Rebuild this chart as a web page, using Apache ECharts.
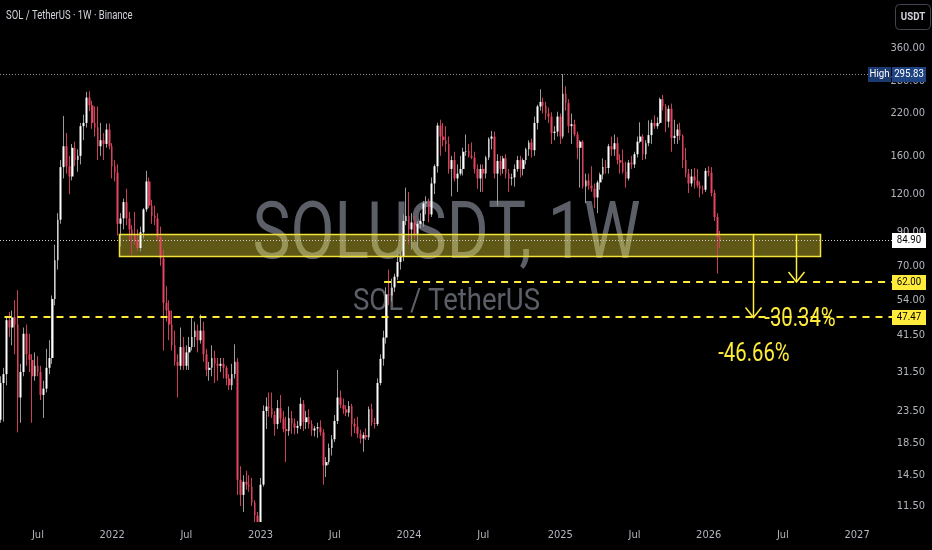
<!DOCTYPE html>
<html>
<head>
<meta charset="utf-8">
<script src="https://cdn.jsdelivr.net/npm/echarts@6/dist/echarts.min.js"></script>
<style>
html,body{margin:0;padding:0;background:#000;}
#c{width:932px;height:550px;}
</style>
</head>
<body>
<div id="c"></div>
<script>
// ---------------- DATA (SOL / TetherUS, weekly, Binance) ----------------
const weeks = [
'2021-03-29','2021-04-05','2021-04-12','2021-04-19','2021-04-26','2021-05-03','2021-05-10','2021-05-17','2021-05-24','2021-05-31',
'2021-06-07','2021-06-14','2021-06-21','2021-06-28','2021-07-05','2021-07-12','2021-07-19','2021-07-26','2021-08-02','2021-08-09',
'2021-08-16','2021-08-23','2021-08-30','2021-09-06','2021-09-13','2021-09-20','2021-09-27','2021-10-04','2021-10-11','2021-10-18',
'2021-10-25','2021-11-01','2021-11-08','2021-11-15','2021-11-22','2021-11-29','2021-12-06','2021-12-13','2021-12-20','2021-12-27',
'2022-01-03','2022-01-10','2022-01-17','2022-01-24','2022-01-31','2022-02-07','2022-02-14','2022-02-21','2022-02-28','2022-03-07',
'2022-03-14','2022-03-21','2022-03-28','2022-04-04','2022-04-11','2022-04-18','2022-04-25','2022-05-02','2022-05-09','2022-05-16',
'2022-05-23','2022-05-30','2022-06-06','2022-06-13','2022-06-20','2022-06-27','2022-07-04','2022-07-11','2022-07-18','2022-07-25',
'2022-08-01','2022-08-08','2022-08-15','2022-08-22','2022-08-29','2022-09-05','2022-09-12','2022-09-19','2022-09-26','2022-10-03',
'2022-10-10','2022-10-17','2022-10-24','2022-10-31','2022-11-07','2022-11-14','2022-11-21','2022-11-28','2022-12-05','2022-12-12',
'2022-12-19','2022-12-26',
'2023-01-02','2023-01-09','2023-01-16','2023-01-23','2023-01-30','2023-02-06','2023-02-13','2023-02-20','2023-02-27','2023-03-06',
'2023-03-13','2023-03-20','2023-03-27','2023-04-03','2023-04-10','2023-04-17','2023-04-24','2023-05-01','2023-05-08','2023-05-15',
'2023-05-22','2023-05-29','2023-06-05','2023-06-12','2023-06-19','2023-06-26','2023-07-03','2023-07-10','2023-07-17','2023-07-24',
'2023-07-31','2023-08-07','2023-08-14','2023-08-21','2023-08-28','2023-09-04','2023-09-11','2023-09-18','2023-09-25','2023-10-02',
'2023-10-09','2023-10-16','2023-10-23','2023-10-30','2023-11-06','2023-11-13','2023-11-20','2023-11-27','2023-12-04','2023-12-11',
'2023-12-18','2023-12-25',
'2024-01-01','2024-01-08','2024-01-15','2024-01-22','2024-01-29','2024-02-05','2024-02-12','2024-02-19','2024-02-26','2024-03-04',
'2024-03-11','2024-03-18','2024-03-25','2024-04-01','2024-04-08','2024-04-15','2024-04-22','2024-04-29','2024-05-06','2024-05-13',
'2024-05-20','2024-05-27','2024-06-03','2024-06-10','2024-06-17','2024-06-24','2024-07-01','2024-07-08','2024-07-15','2024-07-22',
'2024-07-29','2024-08-05','2024-08-12','2024-08-19','2024-08-26','2024-09-02','2024-09-09','2024-09-16','2024-09-23','2024-09-30',
'2024-10-07','2024-10-14','2024-10-21','2024-10-28','2024-11-04','2024-11-11','2024-11-18','2024-11-25','2024-12-02','2024-12-09',
'2024-12-16','2024-12-23','2024-12-30',
'2025-01-06','2025-01-13','2025-01-20','2025-01-27','2025-02-03','2025-02-10','2025-02-17','2025-02-24','2025-03-03','2025-03-10',
'2025-03-17','2025-03-24','2025-03-31','2025-04-07','2025-04-14','2025-04-21','2025-04-28','2025-05-05','2025-05-12','2025-05-19',
'2025-05-26','2025-06-02','2025-06-09','2025-06-16','2025-06-23','2025-06-30','2025-07-07','2025-07-14','2025-07-21','2025-07-28',
'2025-08-04','2025-08-11','2025-08-18','2025-08-25','2025-09-01','2025-09-08','2025-09-15','2025-09-22','2025-09-29','2025-10-06',
'2025-10-13','2025-10-20','2025-10-27','2025-11-03','2025-11-10','2025-11-17','2025-11-24','2025-12-01','2025-12-08','2025-12-15',
'2025-12-22','2025-12-29',
'2026-01-05','2026-01-12','2026-01-19','2026-01-26','2026-02-02'
];

const opens = [
19.3,22.0,29.0,31.0,46.5,44.0,47.5,45.0,26.0,31.5,42.0,36.0,34.5,30.5,33.0,31.5,26.5,27.8,32.5,35.0,
54.5,73.0,99.0,147,172,148,137,170,155,160,200,205,248,234,205,198,172,180,175,195,
172,148,141,96,100,113,100,92,88,85,80,90,107,132,110,102,100,87,74,53,
50,45,38.5,34,33,38,33,36.5,38,41,43,40,43,36,32,32.5,35,33.5,33,33.5,
32.5,30,28.5,31,34,14,12.5,13.8,13.5,13.3,11.8,10.7,
10,13.5,23.5,24.3,24,22.8,21.3,24,22.2,20.5,20.2,22.3,21.4,20.7,21,24.8,21.6,22.4,21.3,20.3,
20.6,20.8,20,15.6,16,17.8,19,21.8,26,24.6,23.8,23.2,24.4,21.3,20.9,19.8,19.1,19.6,19.3,23.8,
21.5,21.3,29,34.8,40.8,56.5,56,59.5,64.5,72,75,98,
101.8,92,97,89,96,98,112,113,103,130,148,201,185,180,175,145,155,135,140,145,
165,166,160,158,145,135,145,140,158,182,185,140,154,145,157,140,135,136,145,155,
145,155,168,177,167,205,232,240,233,220,215,190,192,
215,185,255,238,200,203,188,170,178,127,133,128,125,117,131,139,147,146,172,168,
176,155,152,142,135,152,150,162,178,185,162,176,187,205,200,205,245,232,207,228,
183,186,195,186,155,140,130,137,133,128,125,124,143,141,121,101,87
];

const highs = [
22.8,30.5,32.5,48.0,49.5,50.0,54.0,58.3,33.5,44.0,45.0,42.0,36.0,36.5,35.5,33.0,29.5,37.5,40.0,56.0,
82.0,104,155,216,190,160,175,178,168,205,218,259,260,242,232,232,205,190,204,204,
176,155,150,104,116,125,105,95,105,92,94,108,143,136,115,110,104,94,79,60,
54,50,43,36,44,41,38.5,41,47.5,46,45,48.5,46,37.5,34,38.5,37,35,35,35,
33,31,33.5,38.8,35,15.5,14.5,15,14.5,14.2,12,11,
14.2,24.5,26,27,27,23.5,25.5,26.5,23.5,22.5,24.3,23.5,22.2,21.8,26,25.5,23.5,23.8,21.9,21,
21.5,21.9,20.5,16.6,18.4,19.6,22.8,32,27.4,25.8,24.5,25.3,24.8,22.2,22.5,20.4,20,20.6,24.3,24.8,
22.3,30,36,43,59.5,68,63.5,66,78.5,78,103,126,
122,104,102,98,104,114,118,116,136,150,205,210,205,200,185,160,165,150,160,170,
188,175,177,165,150,150,150,160,184,193,192,162,160,160,162,145,140,150,160,160,
157,170,180,182,215,235,264,248,240,230,222,200,223,
220,295.83,270,245,220,210,192,180,180,140,140,148,130,133,141,157,155,175,185,188,
184,162,168,153,155,160,165,185,206,188,180,209,210,217,214,248,253,236,234,237,
210,203,205,188,170,145,145,146,145,132,128,146,148,147,124,104,91
];

const lows = [
17.6,21.5,21.7,28.5,41.0,38.5,36.0,20.0,21.5,30.5,33.0,31.5,21.5,29.5,30.5,25.5,22.3,27.0,31.0,33.5,
52.0,68.0,96.0,135,140,120,133,148,142,150,180,198,224,196,185,155,160,155,170,168,
135,132,88,81,92,95,85,76,82,78,78,86,105,108,96,95,84,70,37,46,
40,37,33,26,32,32,32,32,37,38,36.5,39,34,30.5,29.5,30.5,29,29.5,31.5,30,
28.5,27.5,27.5,30,12.5,11.5,11,13,12.8,11.5,9.8,8,
9.7,13.3,20.5,22.5,22.3,19.5,20.5,21.5,20,16,19.5,19.8,19.7,19.8,20.5,20.2,20.5,20.6,19.5,19.4,
19.2,19.5,13.5,14.3,15.7,16.8,18.6,21.3,24,23,22.6,22.5,19.4,19.9,19.2,18.4,17.3,18.9,18.9,21,
20.6,21,28.5,33,39,52,53.5,57.5,63,68,72.5,95,
82,79,86,79,93,94,103,97,101,120,141,160,172,165,140,118,132,122,138,138,
160,158,156,140,125,122,122,135,155,168,135,110,138,140,135,122,128,127,142,136,
138,150,160,158,160,195,225,220,210,205,175,180,185,
175,182,225,190,175,185,156,126,125,112,124,122,108,104,124,134,140,140,160,160,
150,140,140,126,133,145,146,158,176,155,156,172,175,196,196,203,225,191,198,165,
175,175,180,146,136,121,127,125,126,117,120,122,137,118,98,66,80
];

const closes = [
22.0,29.0,31.0,46.5,44.0,47.5,45.0,26.0,31.5,42.0,36.0,34.5,30.5,33.0,31.5,26.5,27.8,32.5,35.0,54.5,
73.0,99.0,147,172,148,137,170,155,160,200,205,248,234,205,198,172,180,175,195,172,
148,141,96,100,113,100,92,88,85,80,90,107,132,110,102,100,87,74,53,50,
45,38.5,34,33,38,33,36.5,38,41,43,40,43,36,32,32.5,35,33.5,33,33.5,32.5,
30,28.5,31,34,14,12.5,13.8,13.5,13.3,11.8,10.7,10,
13.5,23.5,24.3,24,22.8,21.3,24,22.2,20.5,20.2,22.3,21.4,20.7,21,24.8,21.6,22.4,21.3,20.3,20.6,
20.8,20,15.6,16,17.8,19,21.8,26,24.6,23.8,23.2,24.4,21.3,20.9,19.8,19.1,19.6,19.3,23.8,21.5,
21.3,29,34.8,40.8,56.5,56,59.5,64.5,72,75,98,101.8,
92,97,89,96,98,112,113,103,130,148,201,185,180,175,145,155,135,140,145,165,
166,160,158,145,135,145,140,158,182,185,140,154,145,157,140,135,136,145,155,145,
155,168,177,167,205,232,240,233,220,215,190,192,215,
185,255,238,200,203,188,170,178,127,133,128,125,117,131,139,147,146,172,168,176,
155,152,142,135,152,150,162,178,185,162,176,187,205,200,205,245,232,207,228,183,
186,195,186,155,140,130,137,133,128,125,124,143,141,121,101,87,84.9
];

// axis ticks
const yTickValues = [360, 280, 220, 160, 120, 90, 70, 54, 41.5, 31.5, 23.5, 18.5, 14.5, 11.5];
const xTickDates  = ['2021-07-05','2022-01-03','2022-07-04','2023-01-02','2023-07-03','2024-01-01',
                     '2024-07-01','2025-01-06','2025-07-07','2026-01-05','2026-07-06','2027-01-04'];
const xTickLabels = ['Jul','2022','Jul','2023','Jul','2024','Jul','2025','Jul','2026','Jul','2027'];
const xRange = ['2021-04-03', '2027-04-02'];
const yRange = [10.196, 516.5];

// annotations
const highValue = 295.83;
const lastPrice = 84.90;
const zone = { top: 89.0, bottom: 75.5, start: '2022-01-20', end: '2026-10-05' };
const supports = [ { price: 62.00, start: '2023-11-01' }, { price: 47.47, start: '2021-04-14' } ];
const arrows = [ { date: '2026-04-24', to: 47.47 }, { date: '2026-08-07', to: 62.00 } ];
const pctLabels = [ { text: '-30.34%', date: '2026-08-17', price: 46.9 }, { text: '-46.66%', date: '2026-04-26', price: 36.0 } ];

// ---------------- CHART ----------------
const NARROW = "'Liberation Sans Narrow','Arial Narrow','DejaVu Sans Condensed',Roboto,sans-serif";
const YEL = '#ffeb3b';
const RED = '#e8455e';
const T = s => Date.parse(s + 'T00:00:00Z');
const L = v => Math.log10(v);

const wickData = weeks.map((d, i) => [T(d), L(opens[i]), L(closes[i]), L(lows[i]), L(highs[i])]);
const bodyData = weeks.map((d, i) => [T(d), L(opens[i]), L(closes[i]),
  L(Math.min(opens[i], closes[i])), L(Math.max(opens[i], closes[i]))]);
const xTickTs = xTickDates.map(T);

const chart = echarts.init(document.getElementById('c'), null, { renderer: 'canvas', width: 932, height: 550 });

chart.setOption({
  backgroundColor: '#000000',
  animation: false,
  grid: { left: 0, right: 39, top: 0, bottom: 28 },
  xAxis: {
    type: 'value', z: 8,
    min: T(xRange[0]), max: T(xRange[1]),
    axisLine: { show: false }, axisTick: { show: false }, splitLine: { show: false },
    axisLabel: {
      customValues: xTickTs,
      formatter: v => { const i = xTickTs.indexOf(+v); return i >= 0 ? xTickLabels[i] : ''; },
      color: '#b2b5be', fontSize: 11, fontFamily: NARROW, margin: 8, hideOverlap: false
    }
  },
  yAxis: {
    type: 'value', position: 'right', z: 8,
    min: L(yRange[0]), max: L(yRange[1]),
    axisLine: { show: false }, axisTick: { show: false }, splitLine: { show: false },
    axisLabel: {
      customValues: yTickValues.map(L),
      formatter: v => Math.pow(10, v).toFixed(2),
      color: '#b2b5be', fontSize: 11, fontFamily: NARROW, align: 'right', margin: 32
    }
  },
  series: [
    { type: 'candlestick', name: 'wick', data: wickData, barWidth: 1, clip: true,
      itemStyle: { color: '#9a9a9a', color0: '#c9405a', borderColor: '#9a9a9a', borderColor0: '#c9405a', borderWidth: 1 } },
    { type: 'candlestick', name: 'body', data: bodyData, barWidth: 2.2, clip: true,
      itemStyle: { color: '#ffffff', color0: RED, borderColor: '#ffffff', borderColor0: RED, borderWidth: 0 } }
  ]
});

// ---------------- OVERLAYS (positioned through the chart's own scales) ----------------
const px = (d, v) => chart.convertToPixel({ gridIndex: 0 }, [T(d), L(v)]);
const yOf = v => chart.convertToPixel({ yAxisIndex: 0 }, L(v));
const xL = chart.convertToPixel({ xAxisIndex: 0 }, T(xRange[0]));
const xR = chart.convertToPixel({ xAxisIndex: 0 }, T(xRange[1]));
const yBottom = chart.convertToPixel({ yAxisIndex: 0 }, L(yRange[0]));
const snap = y => Math.round(y) + 0.5;

function txt(x, y, text, size, fill, align, sx, z, weight) {
  return { type: 'text', x: x, y: y, scaleX: sx, z: z, silent: true,
    style: { text: text, fill: fill, fontSize: size, fontFamily: 'Roboto', fontWeight: weight || 'normal',
      align: align, textAlign: align, verticalAlign: 'middle', textVerticalAlign: 'middle' } };
}

const els = [];
const cx = (xL + xR) / 2;
// watermark
els.push(txt(cx, 238, 'SOLUSDT, 1W', 79, '#5c5f67', 'center', 0.81, 0));
els.push(txt(cx, 302, 'SOL / TetherUS', 32, '#5c5f67', 'center', 0.86, 0));

// zone
const zA = px(zone.start, zone.top), zB = px(zone.end, zone.bottom);
const zShape = { x: Math.round(zA[0]) + 0.5, y: Math.round(zA[1]) + 0.5, width: Math.round(zB[0] - zA[0]), height: Math.round(zB[1] - zA[1]) };
els.push({ type: 'rect', z: 1, silent: true, shape: zShape, style: { fill: 'rgba(255,235,59,0.37)' } });
els.push({ type: 'rect', z: 4, silent: true, shape: zShape, style: { fill: 'none', stroke: '#f3e23a', lineWidth: 1.5 } });

// pane bottom edge: hide the parts of candles that run below the price pane
els.push({ type: 'rect', z: 5, silent: true, shape: { x: 0, y: Math.round(yBottom), width: 932, height: 550 - Math.round(yBottom) }, style: { fill: '#000000' } });

// dotted lines (all-time high, last price)
const yHigh = snap(yOf(highValue));
els.push({ type: 'line', z: 4, silent: true, shape: { x1: xL, y1: yHigh, x2: xR - 24, y2: yHigh }, style: { stroke: '#8e9199', lineWidth: 1, lineDash: [1, 2] } });
const yLast = snap(yOf(lastPrice));
els.push({ type: 'line', z: 4, silent: true, shape: { x1: xL, y1: yLast, x2: xR, y2: yLast }, style: { stroke: '#c9c9c9', lineWidth: 1, lineDash: [1, 2] } });

// dashed support lines
supports.forEach(s => {
  const p = px(s.start, s.price); const y = Math.round(p[1]);
  els.push({ type: 'line', z: 4, silent: true, shape: { x1: p[0], y1: y, x2: xR, y2: y }, style: { stroke: YEL, lineWidth: 2, lineDash: [7, 6] } });
});

// arrows
arrows.forEach(a => {
  const p = px(a.date, zone.top); const x = Math.round(p[0]) + 0.5; const y2 = yOf(a.to);
  els.push({ type: 'line', z: 4, silent: true, shape: { x1: x, y1: p[1], x2: x, y2: y2 }, style: { stroke: YEL, lineWidth: 1.5 } });
  els.push({ type: 'polyline', z: 4, silent: true, shape: { points: [[x - 8, y2 - 10], [x, y2], [x + 8, y2 - 10]] }, style: { stroke: YEL, lineWidth: 1.5, fill: 'none' } });
});

// percentage labels
pctLabels.forEach(l => {
  const p = px(l.date, l.price);
  els.push(txt(p[0], p[1], l.text, 26, YEL, 'center', 0.78, 6));
});

// price tags on the right scale
function tag(price, text, bg, fg) {
  const y = Math.round(yOf(price));
  els.push({ type: 'rect', z: 10, silent: true, shape: { x: xR - 1, y: y - 7, width: 34, height: 15 }, style: { fill: bg } });
  els.push(txt(xR + 16, y + 0.5, text, 11.5, fg, 'center', 0.84, 11));
}
const yH = Math.round(yOf(highValue));
els.push({ type: 'rect', z: 10, silent: true, shape: { x: xR - 25, y: yH - 7, width: 23, height: 15 }, style: { fill: '#1b3a72' } });
els.push(txt(xR - 13.5, yH + 0.5, 'High', 11.5, '#ffffff', 'center', 0.84, 11));
tag(highValue, '295.83', '#1e4282', '#ffffff');
tag(lastPrice, '84.90', '#ffffff', '#000000');
tag(62.00, '62.00', YEL, '#000000');
tag(47.47, '47.47', YEL, '#000000');

// currency box
els.push({ type: 'rect', z: 10, silent: true, shape: { x: xR + 2.5, y: 4.5, width: 35, height: 25, r: 4 }, style: { fill: '#000', stroke: '#43464f', lineWidth: 1 } });
els.push(txt(xR + 20, 17, 'USDT', 11.5, '#d1d4dc', 'center', 0.84, 11, 'bold'));

// title
els.push(txt(6, 16, 'SOL / TetherUS · 1W · Binance', 12.5, '#d1d4dc', 'left', 0.76, 11));

chart.setOption({ graphic: { elements: els } });
</script>
</body>
</html>
